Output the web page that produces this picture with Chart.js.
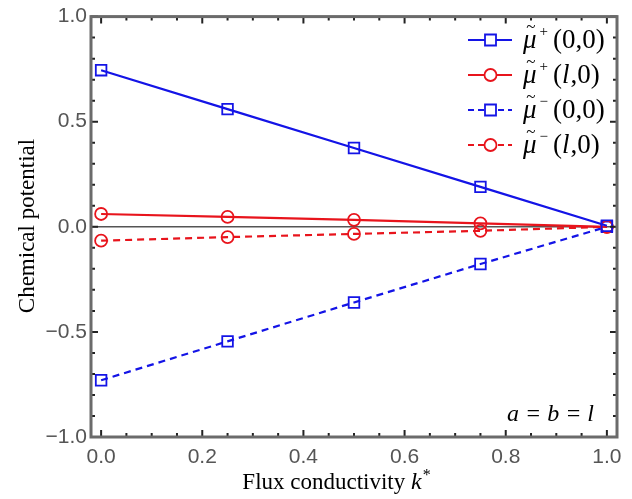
<!DOCTYPE html>
<html>
<head>
<meta charset="utf-8">
<script src="https://cdn.jsdelivr.net/npm/chart.js@4"></script>
<style>
  html, body { margin: 0; padding: 0; background: #fff; }
  #wrap { width: 632px; height: 499px; position: relative; }
</style>
</head>
<body>
<div id="wrap"><canvas id="chart" width="632" height="499"></canvas></div>
<script>
// data
const kValues = [0, 0.25, 0.5, 0.75, 1.0];
const muPlus00 = [0.745, 0.56, 0.375, 0.19, 0.005];
const muPlusL0 = [0.061, 0.047, 0.033, 0.016, 0.0];
const muMinus00 = [-0.73, -0.545, -0.36, -0.177, 0.0];
const muMinusL0 = [-0.066, -0.049, -0.034, -0.019, 0.0];
const xTicks = [0, 0.2, 0.4, 0.6, 0.8, 1.0];
const yTicks = [-1, -0.5, 0, 0.5, 1.0];

const BLUE = '#1414e6';
const RED = '#e8141c';
const FRAME = '#6b6b6b';
const SERIF = '"Liberation Serif"';

function pts(ys) {
    return kValues.map((k, i) => ({ x: k, y: ys[i] }));
}

const seriesInfo = [
    { sign: '+', arg: ['(0,0)'], color: BLUE, dash: [], marker: 'rect' },
    { sign: '+', arg: ['(', 'l', ',0)'], color: RED, dash: [], marker: 'circle' },
    { sign: '\u2212', arg: ['(0,0)'], color: BLUE, dash: [6, 4], marker: 'rect' },
    { sign: '\u2212', arg: ['(', 'l', ',0)'], color: RED, dash: [6, 4], marker: 'circle' }
];

// frame, inward ticks, zero line, titles, legend and annotation
const decorPlugin = {
    id: 'decor',
    beforeDatasetsDraw(chart) {
        const { ctx, chartArea: a, scales: { y } } = chart;
        ctx.save();
        ctx.strokeStyle = '#555';
        ctx.lineWidth = 1.5;
        ctx.beginPath();
        ctx.moveTo(a.left, y.getPixelForValue(0));
        ctx.lineTo(a.right, y.getPixelForValue(0));
        ctx.stroke();
        ctx.restore();
    },
    afterDraw(chart) {
        const { ctx, chartArea: a, scales: { x, y } } = chart;
        ctx.save();
        // ticks
        ctx.strokeStyle = '#222';
        ctx.lineWidth = 2;
        for (let i = 0; i <= 20; i++) {
            const px = x.getPixelForValue(i * 0.05);
            const len = (i % 4 === 0) ? 7 : 4;
            ctx.beginPath();
            ctx.moveTo(px, a.bottom); ctx.lineTo(px, a.bottom - len);
            ctx.moveTo(px, a.top); ctx.lineTo(px, a.top + len);
            ctx.stroke();
        }
        for (let i = 0; i <= 20; i++) {
            const py = y.getPixelForValue(-1 + i * 0.1);
            const len = (i % 5 === 0) ? 7 : 4;
            ctx.beginPath();
            ctx.moveTo(a.left, py); ctx.lineTo(a.left + len, py);
            ctx.moveTo(a.right, py); ctx.lineTo(a.right - len, py);
            ctx.stroke();
        }
        // frame
        ctx.strokeStyle = FRAME;
        ctx.lineWidth = 3;
        ctx.strokeRect(a.left, a.top, a.right - a.left, a.bottom - a.top);

        ctx.fillStyle = '#000';
        ctx.textBaseline = 'alphabetic';

        // x title
        const t1 = 'Flux conductivity ';
        ctx.font = 'italic 24px ' + SERIF;
        const wk = ctx.measureText('k').width;
        ctx.font = '23px ' + SERIF;
        const w1 = ctx.measureText(t1).width;
        let tx = 336 - (w1 + wk + 8) / 2;
        ctx.fillText(t1, tx, 489);
        ctx.font = 'italic 24px ' + SERIF;
        ctx.fillText('k', tx + w1, 489);
        ctx.font = '16px ' + SERIF;
        ctx.fillText('*', tx + w1 + wk + 1, 480);

        // y title
        ctx.save();
        ctx.translate(34, 226);
        ctx.rotate(-Math.PI / 2);
        ctx.font = '23px ' + SERIF;
        ctx.textAlign = 'center';
        ctx.fillText('Chemical potential', 0, 0);
        ctx.restore();

        // legend
        seriesInfo.forEach((s, i) => {
            const cy = 40 + i * 35;
            ctx.strokeStyle = s.color;
            ctx.lineWidth = 2.2;
            ctx.setLineDash(s.dash);
            ctx.beginPath();
            ctx.moveTo(468, cy); ctx.lineTo(512, cy);
            ctx.stroke();
            ctx.setLineDash([]);
            ctx.fillStyle = '#fff';
            ctx.lineWidth = 1.8;
            ctx.beginPath();
            if (s.marker === 'rect') ctx.rect(485, cy - 5.5, 11, 11);
            else ctx.arc(490.5, cy, 6, 0, Math.PI * 2);
            ctx.fill();
            ctx.stroke();

            ctx.fillStyle = '#000';
            let lx = 523;
            const base = cy + 8;
            ctx.font = 'italic 27px ' + SERIF;
            ctx.fillText('\u03bc', lx, base);
            const wmu = ctx.measureText('\u03bc').width;
            ctx.font = '17px ' + SERIF;
            ctx.textAlign = 'center';
            ctx.fillText('~', lx + wmu / 2 + 1, base - 16);
            ctx.textAlign = 'left';
            lx += wmu + 3;
            ctx.font = '15px ' + SERIF;
            ctx.fillText(s.sign, lx, base - 12);
            lx += ctx.measureText(s.sign).width + 5;
            s.arg.forEach(part => {
                ctx.font = (part === 'l' ? 'italic ' : '') + '27px ' + SERIF;
                ctx.fillText(part, lx, base);
                lx += ctx.measureText(part).width + (part === 'l' ? 1 : 0);
            });
        });

        // annotation
        ctx.font = 'italic 24px ' + SERIF;
        ctx.textAlign = 'right';
        ctx.fillText('a = b = l', 594, 421);
        ctx.restore();
    }
};

function makeDataset(label, ys, color, dashed, marker) {
    return {
        label: label,
        data: pts(ys),
        borderColor: color,
        backgroundColor: 'rgba(255,255,255,0)',
        borderWidth: 2.2,
        borderDash: dashed ? [7, 5] : [],
        pointStyle: marker,
        pointRadius: marker === 'rect' ? 7.5 : 6,
        pointBorderWidth: 1.8,
        pointBorderColor: color,
        pointBackgroundColor: 'rgba(255,255,255,0)',
        tension: 0
    };
}

const ctx = document.getElementById('chart');
new Chart(ctx, {
    type: 'line',
    data: {
        datasets: [
            makeDataset('mu+(0,0)', muPlus00, BLUE, false, 'rect'),
            makeDataset('mu+(l,0)', muPlusL0, RED, false, 'circle'),
            makeDataset('mu-(0,0)', muMinus00, BLUE, true, 'rect'),
            makeDataset('mu-(l,0)', muMinusL0, RED, true, 'circle')
        ]
    },
    options: {
        responsive: false,
        animation: false,
        layout: { padding: { top: 14, right: 15, left: 0, bottom: 0 } },
        plugins: { legend: { display: false }, tooltip: { enabled: false } },
        scales: {
            x: {
                type: 'linear',
                min: -0.02,
                max: 1.02,
                afterBuildTicks: s => { s.ticks = xTicks.map(v => ({ value: v })); },
                afterFit: s => { s.height = 62; },
                grid: { display: false, drawTicks: false },
                border: { display: false },
                ticks: {
                    color: '#555',
                    font: { family: 'Liberation Sans', size: 21 },
                    padding: 8,
                    maxRotation: 0,
                    callback: v => v.toFixed(1)
                }
            },
            y: {
                type: 'linear',
                min: -1,
                max: 1,
                afterBuildTicks: s => { s.ticks = yTicks.map(v => ({ value: v })); },
                afterFit: s => { s.width = 91; },
                grid: { display: false, drawTicks: false },
                border: { display: false },
                ticks: {
                    color: '#555',
                    font: { family: 'Liberation Sans', size: 21 },
                    padding: 4,
                    callback: v => v.toFixed(1).replace('-', '\u2212')
                }
            }
        }
    },
    plugins: [decorPlugin]
});
</script>
</body>
</html>
